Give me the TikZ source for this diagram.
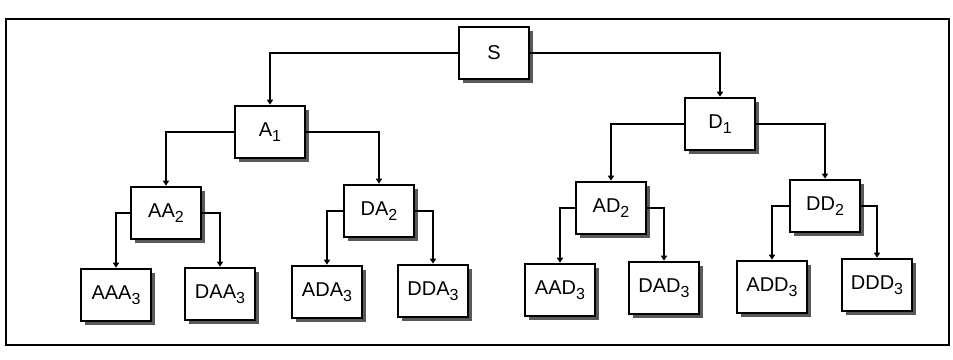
\documentclass[tikz,border=0pt]{standalone}
\usepackage{fontspec}
\setmainfont{Liberation Sans}
\usetikzlibrary{arrows.meta, shadows}
\newcommand{\lvl}[1]{\raisebox{-0.25em}{\fontsize{16}{16}\selectfont #1}}
\tikzset{
    font=\fontsize{20}{20}\selectfont,
    coef/.style={rectangle, draw=black, fill=white, line width=2.6pt, align=center, minimum width=70pt, minimum height=52pt, inner sep=2pt, drop shadow={shadow xshift=4pt, shadow yshift=-4pt, fill=black!65, opacity=1}},
    arrow/.style={-{Triangle[width=6pt,length=5pt]}, line width=1.8pt, color=black},
    frame/.style={draw=black, line width=1.4pt}
}
\begin{document}
\begin{tikzpicture}[x=1pt, y=-1pt]
    \useasboundingbox (0,0) rectangle (953,359);

    % Outer frame
    \draw [frame] (6,19) rectangle (949,345);

    % Level 0 and 1
    \node (s)  [coef] at (494,53) {S};
    \node (a1) [coef] at (270,132) {A\lvl{1}};
    \node (d1) [coef] at (720,124) {D\lvl{1}};

    % Level 2
    \node (aa2) [coef] at (166,213) {AA\lvl{2}};
    \node (da2) [coef] at (379,211) {DA\lvl{2}};
    \node (ad2) [coef] at (611,208) {AD\lvl{2}};
    \node (dd2) [coef] at (825,206) {DD\lvl{2}};

    % Level 3
    \node (aaa3) [coef] at (116,295) {AAA\lvl{3}};
    \node (daa3) [coef] at (220,294) {DAA\lvl{3}};
    \node (ada3) [coef] at (327,292) {ADA\lvl{3}};
    \node (dda3) [coef] at (433,291) {DDA\lvl{3}};
    \node (aad3) [coef] at (560,290) {AAD\lvl{3}};
    \node (dad3) [coef] at (664,288) {DAD\lvl{3}};
    \node (add3) [coef] at (772,287) {ADD\lvl{3}};
    \node (ddd3) [coef] at (877,285) {DDD\lvl{3}};

    % Paths: S
    \draw [arrow] (s.west) -| (a1.north);
    \draw [arrow] (s.east) -| (d1.north);

    % Paths: level 1
    \draw [arrow] (a1.west) -| (aa2.north);
    \draw [arrow] (a1.east) -| (da2.north);
    \draw [arrow] (d1.west) -| (ad2.north);
    \draw [arrow] (d1.east) -| (dd2.north);

    % Paths: level 2
    \draw [arrow] (aa2.west) -| (aaa3.north);
    \draw [arrow] (aa2.east) -| (daa3.north);
    \draw [arrow] (da2.west) -| (ada3.north);
    \draw [arrow] (da2.east) -| (dda3.north);
    \draw [arrow] (ad2.west) -| (aad3.north);
    \draw [arrow] (ad2.east) -| (dad3.north);
    \draw [arrow] (dd2.west) -| (add3.north);
    \draw [arrow] (dd2.east) -| (ddd3.north);

\end{tikzpicture}
\end{document}
